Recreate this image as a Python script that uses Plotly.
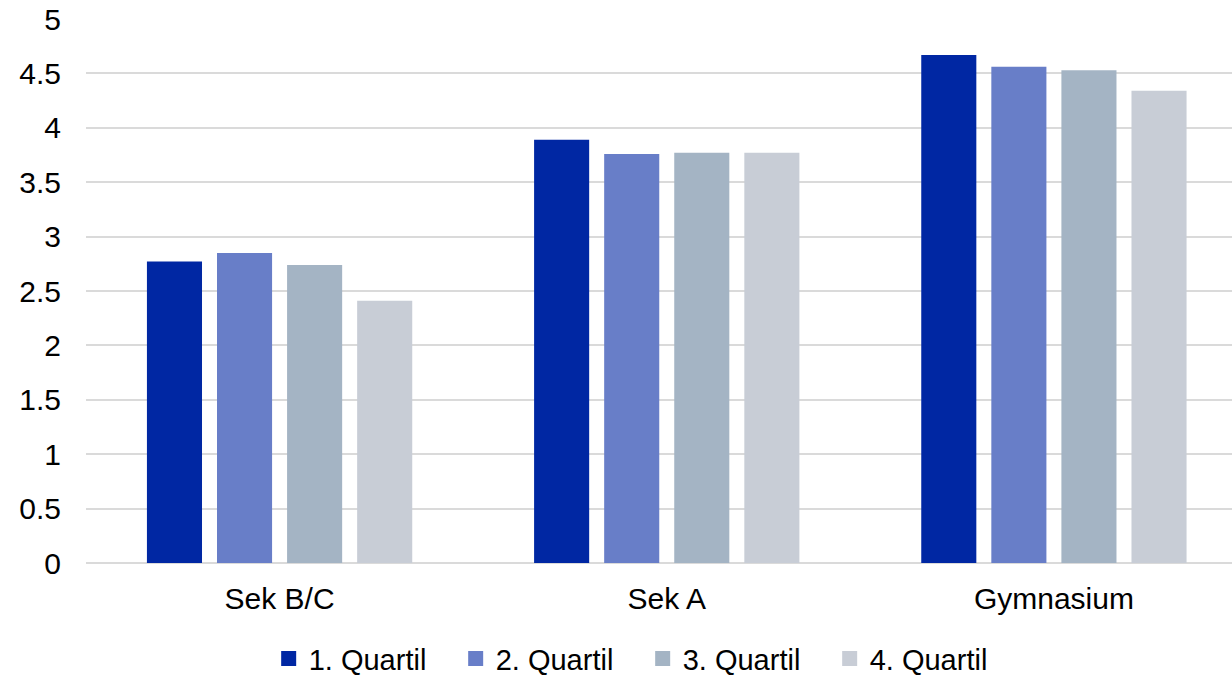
import plotly.graph_objects as go

categories = ["Sek B/C", "Sek A", "Gymnasium"]
series_names = ["1. Quartil", "2. Quartil", "3. Quartil", "4. Quartil"]
q1 = [2.77, 3.89, 4.67]
q2 = [2.85, 3.76, 4.56]
q3 = [2.74, 3.77, 4.53]
q4 = [2.41, 3.77, 4.34]
colors = ["#0027A3", "#687EC8", "#A4B4C4", "#C8CDD6"]
y_tickvals = [0, 0.5, 1, 1.5, 2, 2.5, 3, 3.5, 4, 4.5, 5]
y_ticktext = ["0", "0.5", "1", "1.5", "2", "2.5", "3", "3.5", "4", "4.5", "5"]

fig = go.Figure()
for name, vals, col in zip(series_names, [q1, q2, q3, q4], colors):
    fig.add_trace(go.Bar(x=categories, y=vals, name=name, legendgroup=name,
                         showlegend=False,
                         marker=dict(color=col, line=dict(width=0))))
# legend entries with larger square swatches
for name, col in zip(series_names, colors):
    fig.add_trace(go.Scatter(x=[None], y=[None], mode="markers", name=name,
                             legendgroup=name, showlegend=True,
                             marker=dict(symbol="square", size=15, color=col)))

font_family = "Liberation Sans, Arial, sans-serif"
fig.update_layout(
    width=1232, height=676,
    margin=dict(l=86, r=0, t=19, b=113, autoexpand=False),
    paper_bgcolor="white", plot_bgcolor="white",
    barmode="group", bargap=0.276, bargroupgap=0.214,
    font=dict(family=font_family, size=30, color="black"),
    showlegend=True,
    legend=dict(orientation="h", x=0.1594, xanchor="left", y=-0.176, yanchor="middle",
                font=dict(size=29, color="black"), entrywidth=142,
                traceorder="normal", itemsizing="trace"),
    xaxis=dict(range=[-0.5, 2.46], showgrid=False, showline=False, ticks="",
               tickfont=dict(size=30), ticklabelstandoff=15),
    yaxis=dict(range=[0, 5], tickvals=y_tickvals, ticktext=y_ticktext,
               showgrid=True, gridcolor="#DADADA", gridwidth=2,
               zeroline=True, zerolinecolor="#DADADA", zerolinewidth=2,
               showline=False, ticks="", ticklabelstandoff=24,
               tickfont=dict(size=30)),
)

fig.write_html("out.html")
